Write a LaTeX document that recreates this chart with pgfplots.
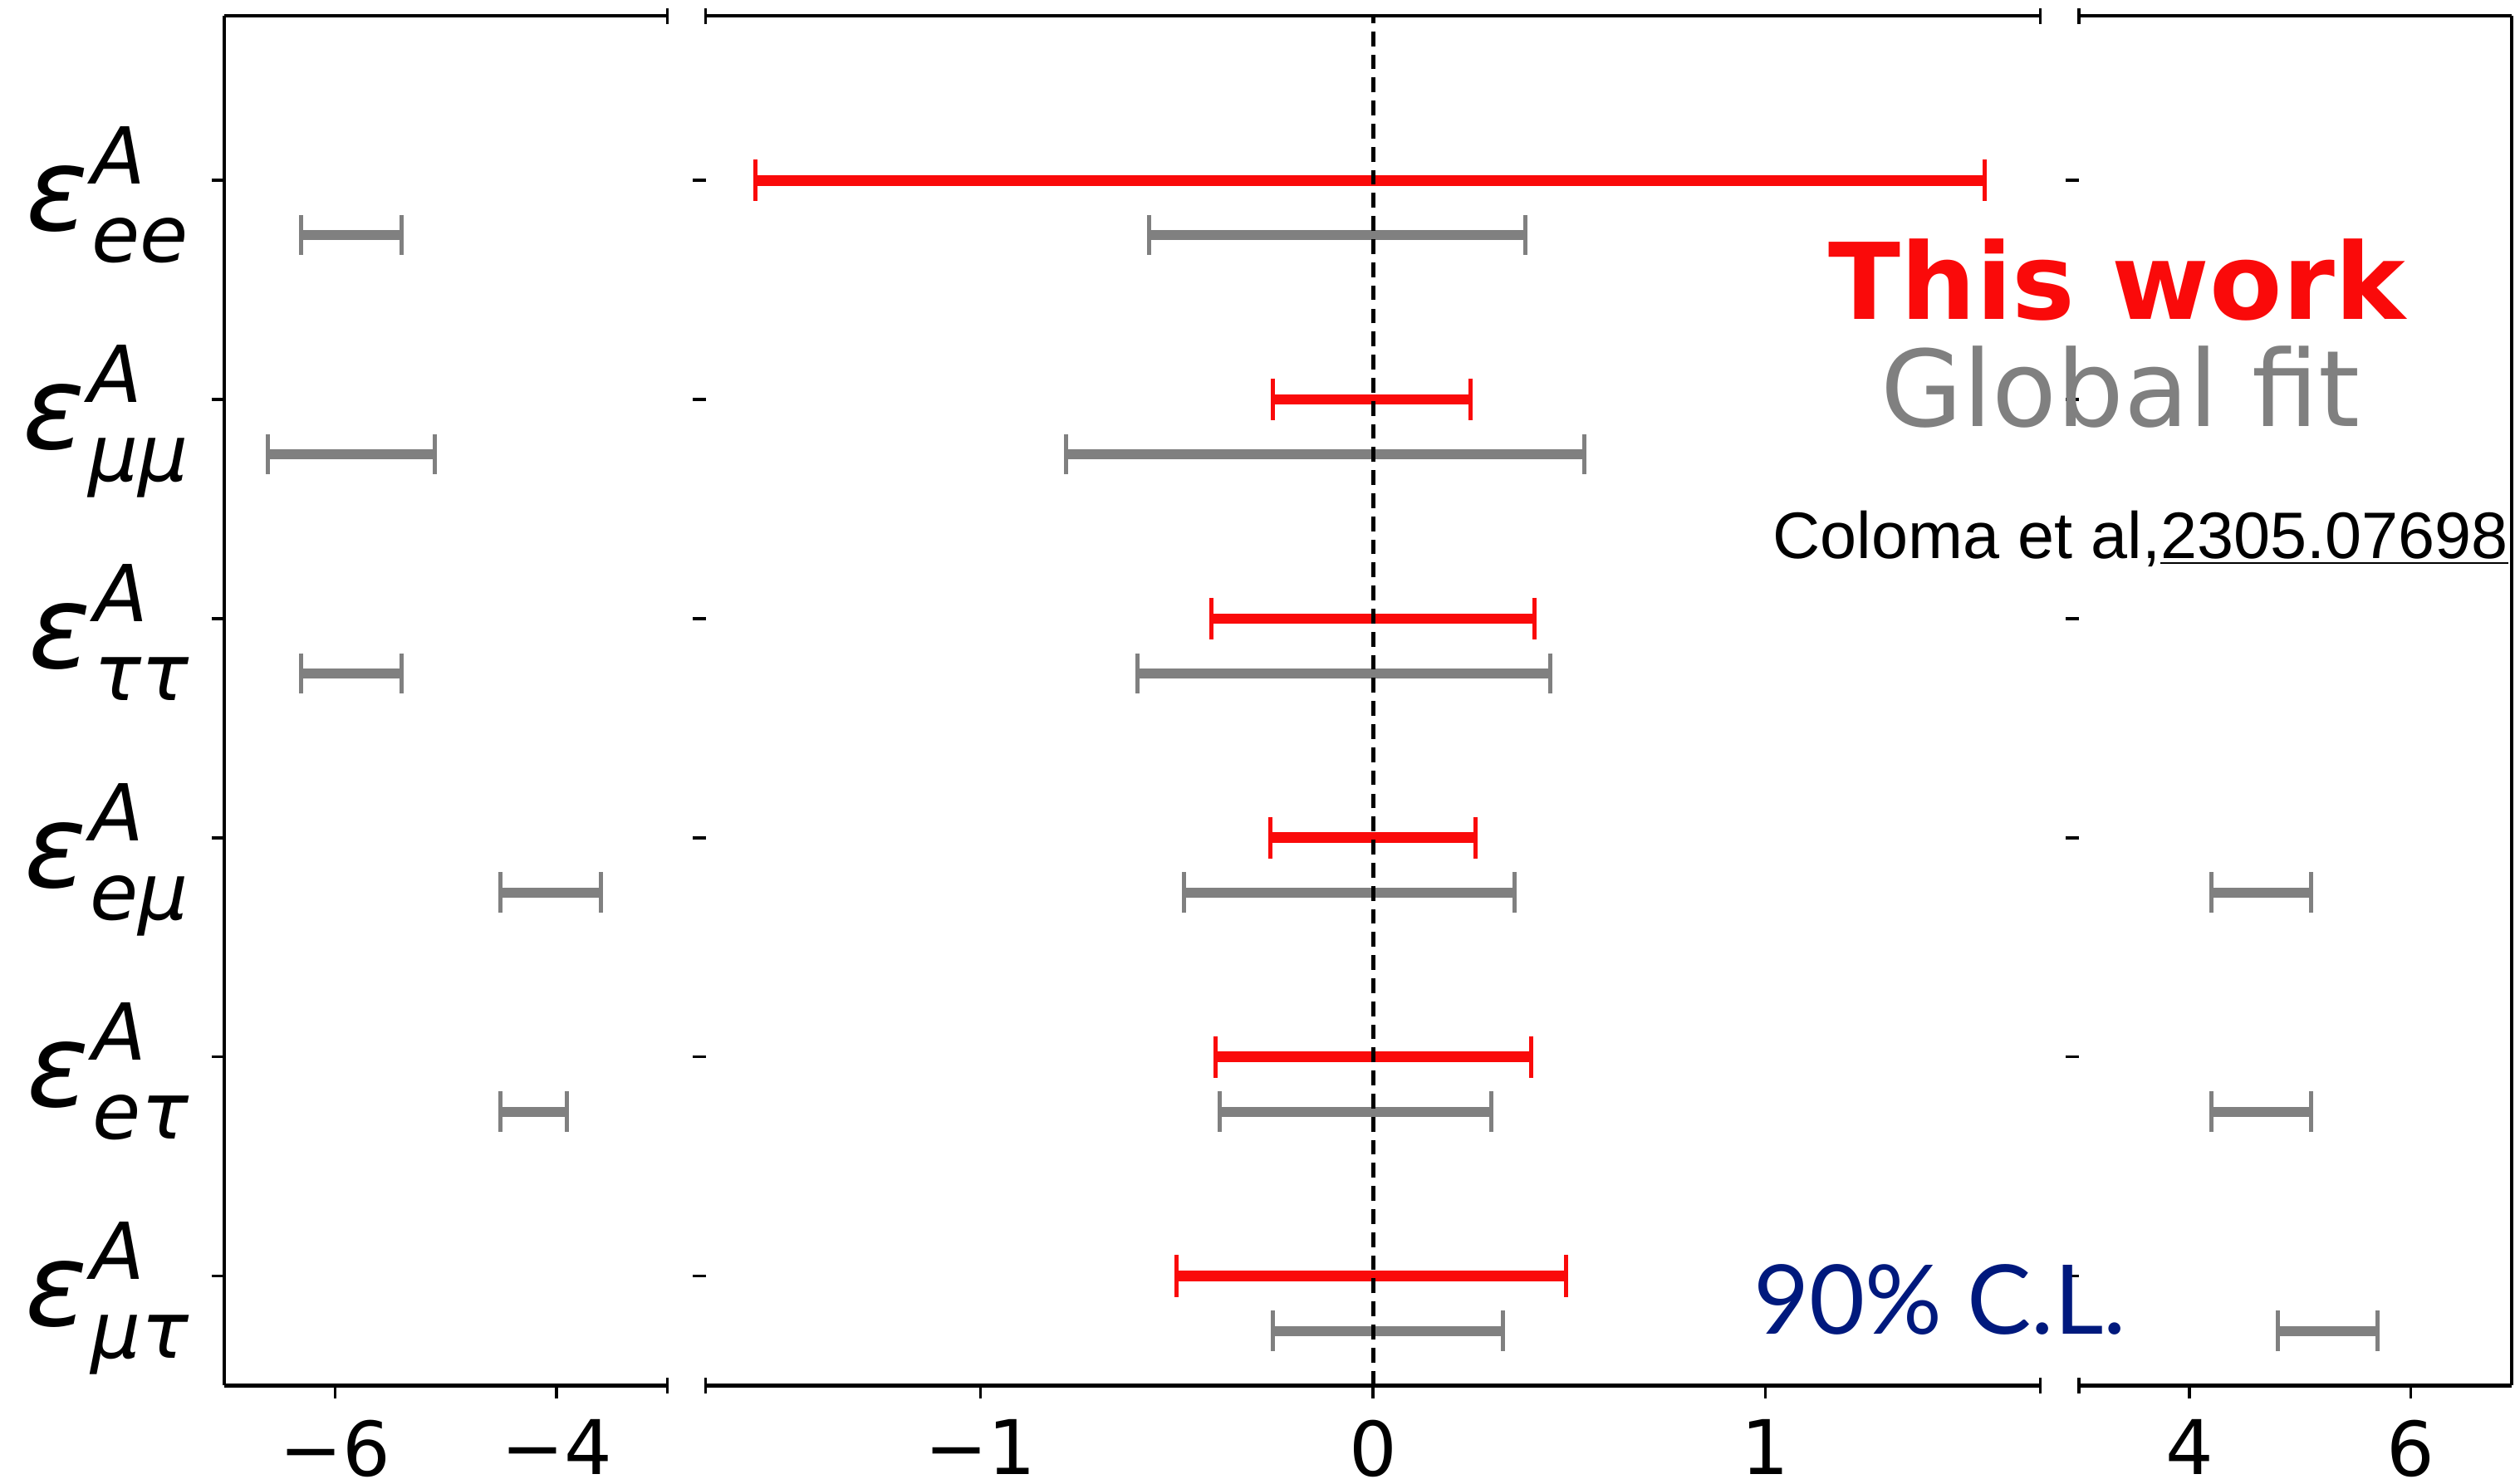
\documentclass[border=0pt]{standalone}
\usepackage{fontspec}
\setmainfont{DejaVu Sans}
\newfontfamily\libsans{Liberation Sans}
\newfontfamily\latofont{Lato}
\usepackage{pgfplots}
\pgfplotsset{compat=1.18}
\definecolor{barred}{RGB}{250,10,10}
\definecolor{bargray}{RGB}{128,128,128}
\definecolor{clblue}{RGB}{0,25,125}

\newcommand\epslab[1]{{\fontsize{36}{36}\selectfont\itshape ε\kern1pt\makebox[0pt][l]{\raisebox{14.5pt}{\fontsize{24.5}{24.5}\selectfont A}}\raisebox{-10pt}{\fontsize{24.5}{24.5}\selectfont #1}}}

\tikzset{brk/.style={black, line width=0.9pt}}
\pgfplotsset{
  panel/.style={
    scale only axis, height=427pt,
    ymin=-0.5, ymax=5.75, ytick={0,1,2,3,4,5},
    separate axis lines,
    axis x line*=box, axis y line*=left,
    xtick pos=bottom, ytick pos=left,
    tick align=outside, major tick length=4pt,
    every tick/.style={black, line width=0.9pt},
    axis line style={black, line width=1.1pt},
    xticklabel style={font=\fontsize{23.5}{23.5}\selectfont, anchor=north, inner sep=0pt, text depth=0pt, yshift=-6.5pt},
    unbounded coords=jump, clip=false,
  },
  redbar/.style={barred, line width=3.3pt, line cap=butt, mark=|, mark size=6.5pt, mark options={solid, line width=1.3pt, barred}},
  graybar/.style={bargray, line width=3.1pt, line cap=butt, mark=|, mark size=6.3pt, mark options={solid, line width=1.3pt, bargray}},
}

\begin{document}
\begin{tikzpicture}
\useasboundingbox (-70pt,-30.5pt) rectangle (714pt,432pt);

% ---------- left panel ----------
\begin{axis}[panel, width=138pt, xmin=-7, xmax=-3,
  xtick={-6,-4}, xticklabels={−6,−4},
  yticklabels={{\epslab{μτ}},{\epslab{eτ}},{\epslab{eμ}},{\epslab{ττ}},{\epslab{μμ}},{\epslab{ee}}},
  yticklabel style={anchor=base east, inner sep=0pt, yshift=-15.5pt, xshift=-7pt},
  at={(0pt,0pt)}, anchor=south west]
\addplot[graybar] coordinates {
 (-6.31,4.75) (-5.40,4.75) (nan,nan)
 (-6.61,3.75) (-5.10,3.75) (nan,nan)
 (-6.31,2.75) (-5.40,2.75) (nan,nan)
 (-4.51,1.75) (-3.60,1.75) (nan,nan)
 (-4.51,0.75) (-3.91,0.75)
};
\draw[brk] ([yshift=-2.5pt]rel axis cs:1,0) -- ([yshift=2.5pt]rel axis cs:1,0);
\draw[brk] ([yshift=-2.5pt]rel axis cs:1,1) -- ([yshift=2.5pt]rel axis cs:1,1);
\end{axis}

% ---------- middle panel ----------
\begin{axis}[panel, width=416pt, xmin=-1.7, xmax=1.7,
  xtick={-1,0,1}, xticklabels={−1,0,1},
  yticklabels={},
  y axis line style={draw=none},
  at={(150pt,0pt)}, anchor=south west]
\addplot[redbar] coordinates {
 (-1.573,5) (1.559,5) (nan,nan)
 (-0.255,4) (0.249,4) (nan,nan)
 (-0.411,3) (0.411,3) (nan,nan)
 (-0.261,2) (0.261,2) (nan,nan)
 (-0.401,1) (0.402,1) (nan,nan)
 (-0.500,0) (0.491,0)
};
\addplot[graybar] coordinates {
 (-0.570,4.75) (0.388,4.75) (nan,nan)
 (-0.781,3.75) (0.538,3.75) (nan,nan)
 (-0.600,2.75) (0.452,2.75) (nan,nan)
 (-0.481,1.75) (0.360,1.75) (nan,nan)
 (-0.391,0.75) (0.301,0.75) (nan,nan)
 (-0.255,-0.25) (0.331,-0.25)
};
\addplot[black, line width=1.3pt, dash pattern=on 4.6pt off 2.6pt] coordinates {(0,-0.5) (0,5.75)};
\draw[brk] ([yshift=-2.5pt]rel axis cs:0,0) -- ([yshift=2.5pt]rel axis cs:0,0);
\draw[brk] ([yshift=-2.5pt]rel axis cs:0,1) -- ([yshift=2.5pt]rel axis cs:0,1);
\draw[brk] ([yshift=-2.5pt]rel axis cs:1,0) -- ([yshift=2.5pt]rel axis cs:1,0);
\draw[brk] ([yshift=-2.5pt]rel axis cs:1,1) -- ([yshift=2.5pt]rel axis cs:1,1);
\end{axis}

% ---------- right panel ----------
\begin{axis}[panel, width=135pt, xmin=3, xmax=6.913,
  xtick={4,6}, xticklabels={4,6},
  yticklabels={},
  y axis line style={draw=none},
  at={(578pt,0pt)}, anchor=south west]
\addplot[graybar] coordinates {
 (4.20,1.75) (5.10,1.75) (nan,nan)
 (4.20,0.75) (5.10,0.75) (nan,nan)
 (4.80,-0.25) (5.70,-0.25)
};
\draw[black, line width=1.1pt] (rel axis cs:1,0) -- (rel axis cs:1,1);
\draw[brk] ([yshift=-2.5pt]rel axis cs:0,0) -- ([yshift=2.5pt]rel axis cs:0,0);
\draw[brk] ([yshift=-2.5pt]rel axis cs:0,1) -- ([yshift=2.5pt]rel axis cs:0,1);
\end{axis}

% ---------- annotations ----------
\node[anchor=base east, inner sep=0pt, text=barred, font=\fontsize{33}{33}\selectfont\bfseries] at (680pt,332.5pt) {This work};
\node[anchor=base east, inner sep=0pt, text=bargray, font=\fontsize{33}{33}\selectfont] at (666pt,299pt) {Global fit};
\node[anchor=base east, inner sep=0pt, font=\libsans\fontsize{20.5}{20.5}\selectfont] at (712pt,258pt) {Coloma et al,\underline{2305.07698}};
\node[anchor=base west, inner sep=0pt, text=clblue, font=\latofont\fontsize{30}{30}\selectfont] at (476.5pt,16pt) {90\% C.L.};
\end{tikzpicture}
\end{document}
